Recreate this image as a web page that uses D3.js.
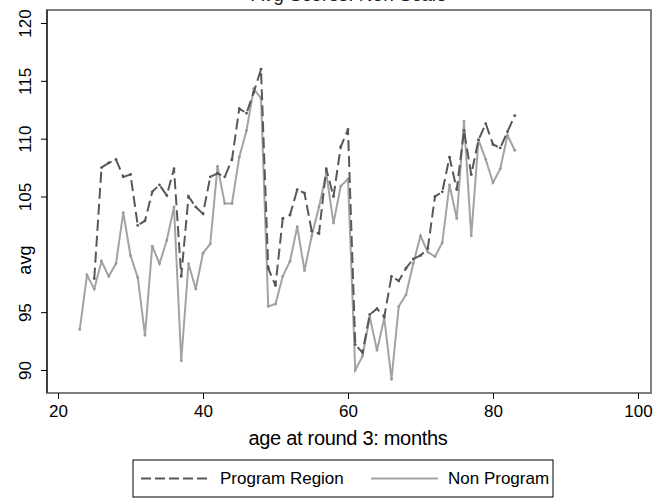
<!DOCTYPE html>
<html>
<head>
<meta charset="utf-8">
<script src="https://cdn.jsdelivr.net/npm/d3@7"></script>
<style>
  body { margin: 0; background: #fff; }
  svg { display: block; font-family: "Liberation Sans", Arial, sans-serif; }
</style>
</head>
<body>
<div id="chart"></div>
<script>
// age at round 3 (months)
const programAges = d3.range(25, 84);
const programAvg = [
  97.9, 107.5, 107.9, 108.2, 106.7, 106.9, 102.5, 102.9, 105.4, 106.0,
  105.1, 107.4, 98.1, 105.0, 104.1, 103.5, 106.7, 107.0, 106.7, 108.2,
  112.6, 112.2, 114.0, 116.0, 98.8, 97.3, 103.1, 103.4, 105.6, 105.3,
  102.0, 101.8, 107.4, 105.0, 109.3, 110.8, 92.2, 91.5, 94.8, 95.3,
  94.6, 98.1, 97.7, 98.8, 99.6, 99.9, 100.5, 105.0, 105.4, 108.4,
  105.6, 110.7, 106.9, 109.9, 111.3, 109.5, 109.2, 110.6, 112.0
];
const nonProgramAges = d3.range(23, 84);
const nonProgramAvg = [
  93.5, 98.2, 97.0, 99.4, 98.1, 99.2, 103.6, 99.9, 98.0, 93.0,
  100.7, 99.2, 101.2, 104.1, 90.8, 99.2, 97.0, 100.1, 100.9, 107.6,
  104.4, 104.4, 108.4, 110.7, 114.3, 113.5, 95.5, 95.7, 98.1, 99.4,
  102.4, 98.6, 101.6, 104.1, 107.0, 102.7, 105.9, 106.5, 90.0, 91.2,
  94.6, 91.7, 94.5, 89.2, 95.5, 96.5, 99.2, 101.6, 100.2, 99.8,
  101.0, 106.0, 103.1, 111.5, 101.6, 109.9, 108.2, 106.2, 107.4, 110.3,
  109.0
];
const xTicks = [20, 40, 60, 80, 100];
const yTicks = [90, 95, 105, 110, 115, 120];
const seriesNames = ['Program Region', 'Non Program'];

const W = 656, H = 502;
const plot = { left: 47, right: 651, top: 10, bottom: 393 };

const svg = d3.select('#chart').append('svg')
    .attr('width', W)
    .attr('height', H);

// scales
const x = d3.scaleLinear().domain([20, 100]).range([58, 638]);
const y = d3.scaleLinear().domain([90, 120]).range([370, 23]);

// title (mostly cut off at top edge, as in the original)
svg.append('text')
    .attr('x', (plot.left + plot.right) / 2)
    .attr('y', 1)
    .attr('text-anchor', 'middle')
    .style('font-size', '19px')
    .style('fill', '#222')
    .text('Avg Scores: Non Scale');

// plot frame
svg.append('rect')
    .attr('x', plot.left)
    .attr('y', plot.top)
    .attr('width', plot.right - plot.left)
    .attr('height', plot.bottom - plot.top)
    .attr('fill', 'none')
    .attr('stroke', '#7f7f7f')
    .attr('stroke-width', 2);

// y axis
const yAxis = svg.append('g')
    .attr('transform', `translate(${plot.left},0)`)
    .call(d3.axisLeft(y).tickValues(yTicks).tickSize(6).tickSizeOuter(0));
yAxis.select('.domain').remove();
yAxis.append('line')
    .attr('x1', 0).attr('x2', 0)
    .attr('y1', plot.top).attr('y2', plot.bottom)
    .attr('stroke', '#000');
yAxis.selectAll('.tick line').attr('stroke', '#000');
yAxis.selectAll('.tick text')
    .attr('x', 0).attr('y', 0).attr('dy', 0)
    .attr('transform', 'translate(-16,0) rotate(-90)')
    .attr('text-anchor', 'middle')
    .style('font-size', '17px')
    .style('font-family', '"Liberation Sans", Arial, sans-serif')
    .attr('fill', '#000');

// y axis title
svg.append('text')
    .attr('transform', `translate(31,${y(99.5)}) rotate(-90)`)
    .attr('text-anchor', 'middle')
    .style('font-size', '18px')
    .text('avg');

// x axis
const xAxis = svg.append('g')
    .attr('transform', `translate(0,${plot.bottom})`)
    .call(d3.axisBottom(x).tickValues(xTicks).tickSize(6).tickSizeOuter(0).tickPadding(6));
xAxis.select('.domain').remove();
xAxis.selectAll('.tick line').attr('stroke', '#000');
xAxis.selectAll('.tick text')
    .style('font-size', '17px')
    .style('font-family', '"Liberation Sans", Arial, sans-serif')
    .attr('fill', '#000');

svg.append('text')
    .attr('x', x(60))
    .attr('y', 445)
    .attr('text-anchor', 'middle')
    .style('font-size', '20px')
    .style('letter-spacing', '-0.3px')
    .text('age at round 3:  months');

// lines
const line = d3.line()
    .x(d => x(d[0]))
    .y(d => y(d[1]));

const nonData = nonProgramAges.map((a, i) => [a, nonProgramAvg[i]]);
const progData = programAges.map((a, i) => [a, programAvg[i]]);

svg.append('path')
    .datum(nonData)
    .attr('d', line)
    .attr('fill', 'none')
    .attr('stroke', '#a3a3a3')
    .attr('stroke-width', 2);

svg.selectAll('.dot-non')
    .data(nonData)
    .enter()
    .append('circle')
    .attr('class', 'dot-non')
    .attr('cx', d => x(d[0]))
    .attr('cy', d => y(d[1]))
    .attr('r', 1.4)
    .attr('fill', '#999');

svg.append('path')
    .datum(progData)
    .attr('d', line)
    .attr('fill', 'none')
    .attr('stroke', '#585858')
    .attr('stroke-width', 2)
    .attr('stroke-dasharray', '11,5');

svg.selectAll('.dot-prog')
    .data(progData)
    .enter()
    .append('circle')
    .attr('class', 'dot-prog')
    .attr('cx', d => x(d[0]))
    .attr('cy', d => y(d[1]))
    .attr('r', 1.4)
    .attr('fill', '#555');

// legend
const legend = svg.append('g');
legend.append('rect')
    .attr('x', 133).attr('y', 460)
    .attr('width', 420).attr('height', 37)
    .attr('fill', '#fff')
    .attr('stroke', '#000')
    .attr('stroke-width', 1);

legend.append('line')
    .attr('x1', 141).attr('x2', 208)
    .attr('y1', 478.5).attr('y2', 478.5)
    .attr('stroke', '#585858')
    .attr('stroke-width', 2)
    .attr('stroke-dasharray', '10,4');
legend.append('text')
    .attr('x', 220).attr('y', 484)
    .style('font-size', '17px')
    .text(seriesNames[0]);

legend.append('line')
    .attr('x1', 371).attr('x2', 438)
    .attr('y1', 478.5).attr('y2', 478.5)
    .attr('stroke', '#a3a3a3')
    .attr('stroke-width', 2);
legend.append('text')
    .attr('x', 448).attr('y', 484)
    .style('font-size', '17px')
    .text(seriesNames[1]);
</script>
</body>
</html>
